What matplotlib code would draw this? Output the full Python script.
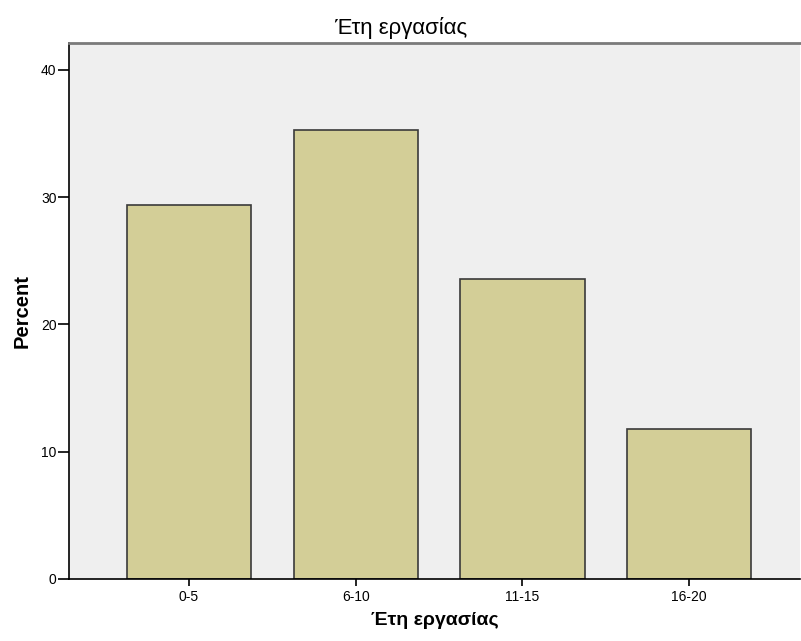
import matplotlib
matplotlib.use("Agg")
import matplotlib.pyplot as plt
import numpy as np

# data: percent of respondents per group of working years
categories = ["0-5", "6-10", "11-15", "16-20"]
percent = [29.41, 35.29, 23.53, 11.76]
y_ticks = [0, 10, 20, 30, 40]

plt.rcParams["font.family"] = ["Liberation Sans", "DejaVu Sans"]

fig = plt.figure(figsize=(8.01, 6.41), dpi=100)
ax = fig.add_axes([69 / 801, 62 / 641, 731 / 801, 536 / 641])
ax.set_facecolor("#efefef")

x = np.arange(len(categories))
ax.bar(x, percent, width=0.745, color="#d3ce97", edgecolor="#3a3a3a", linewidth=1.2, zorder=2)

ax.set_xlim(-0.72, 3.665)
ax.set_ylim(0, 42.1)
ax.set_xticks(x)
ax.set_xticklabels(categories, fontsize=10)
ax.set_yticks(y_ticks)
ax.set_yticklabels([str(v) for v in y_ticks], fontsize=10)
ax.tick_params(axis="x", direction="out", length=5, width=1.2, color="black", pad=3)
ax.tick_params(axis="y", direction="out", length=8, width=1.2, color="black", pad=1)

ax.spines["right"].set_visible(False)
ax.spines["top"].set_color("#7a7a7a")
ax.spines["top"].set_linewidth(2)
for s in ("left", "bottom"):
    ax.spines[s].set_color("black")
    ax.spines[s].set_linewidth(1.2)

ax.set_ylabel("Percent", fontsize=14.5, fontweight="bold")
ax.yaxis.set_label_coords(-0.051, 0.5)
ax.set_xlabel("Έτη εργασίας", fontsize=14, fontweight="bold")
ax.xaxis.set_label_coords(0.5, -0.062)
fig.text(0.5, 1 - 28 / 641, "Έτη εργασίας", ha="center", va="center", fontsize=16)

fig.savefig("out.png", dpi=100)
